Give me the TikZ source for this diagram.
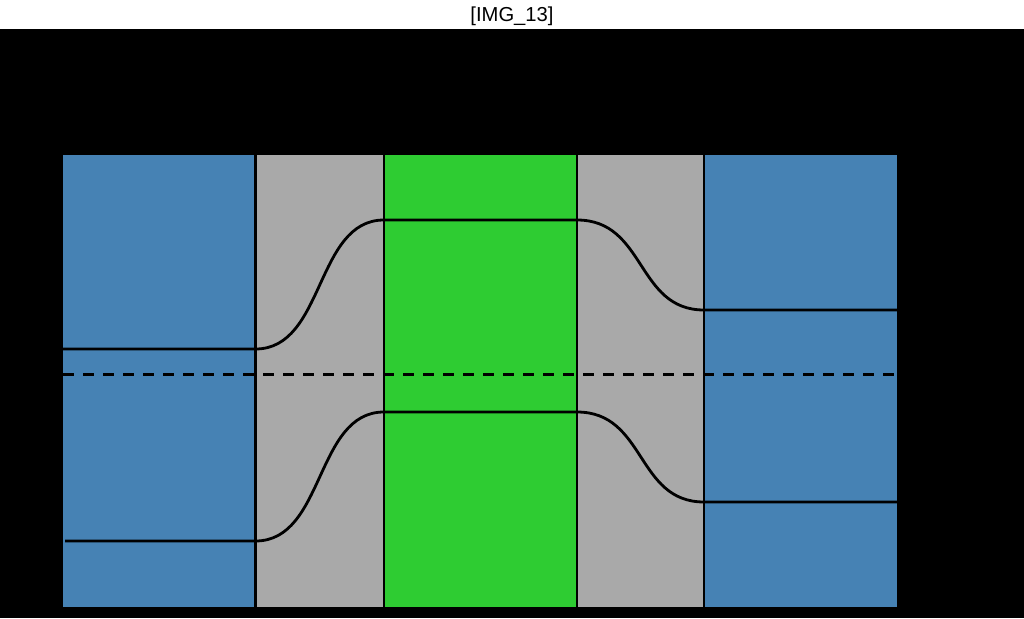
\documentclass[tikz,border=0pt]{standalone}
\usepackage{fontspec}
\setmainfont{Liberation Sans}
\definecolor{bandblue}{RGB}{70,130,180}
\definecolor{bandgray}{RGB}{169,169,169}
\definecolor{bandgreen}{RGB}{46,204,50}
\begin{document}
\begin{tikzpicture}[x=1pt,y=-1pt,
  band/.style={draw=none},
  divider/.style={black,line width=2.4pt},
  level/.style={black,line width=2.8pt},
  mid/.style={black,line width=2.8pt,dash pattern=on 11pt off 9pt}]
\useasboundingbox (0,0) rectangle (1024,618);
\fill[white] (0,0) rectangle (1024,29);
\fill[black] (0,29) rectangle (1024,618);
\node[font=\fontsize{20.2}{22}\selectfont] (title) at (512,16.5) {[IMG\_13]};
% bands
\fill[bandblue] (63,155) rectangle (255.5,607);
\fill[bandgray] (255.5,155) rectangle (384,607);
\fill[bandgreen] (384,155) rectangle (577,607);
\fill[bandgray] (577,155) rectangle (704,607);
\fill[bandblue] (704,155) rectangle (897,607);
% dividers
\coordinate (d1t) at (255.5,155); \coordinate (d1b) at (255.5,607);
\coordinate (d2t) at (384,155); \coordinate (d2b) at (384,607);
\coordinate (d3t) at (577,155); \coordinate (d3b) at (577,607);
\coordinate (d4t) at (704,155); \coordinate (d4b) at (704,607);
\draw[divider] (d1t) -- (d1b);
\draw[divider] (d2t) -- (d2b);
\draw[divider] (d3t) -- (d3b);
\draw[divider] (d4t) -- (d4b);
% upper level
\draw[level] (63,349) -- (255.5,349)
  .. controls (325,349) and (315,220) .. (384,220)
  -- (577,220)
  .. controls (646,220) and (636,310) .. (704,310)
  -- (897,310);
% lower level
\draw[level] (65,541) -- (255.5,541)
  .. controls (325,541) and (315,412) .. (384,412)
  -- (577,412)
  .. controls (646,412) and (636,502) .. (704,502)
  -- (897,502);
% dashed middle
\draw[mid] (63,374.5) -- (897,374.5);
\end{tikzpicture}
\end{document}
